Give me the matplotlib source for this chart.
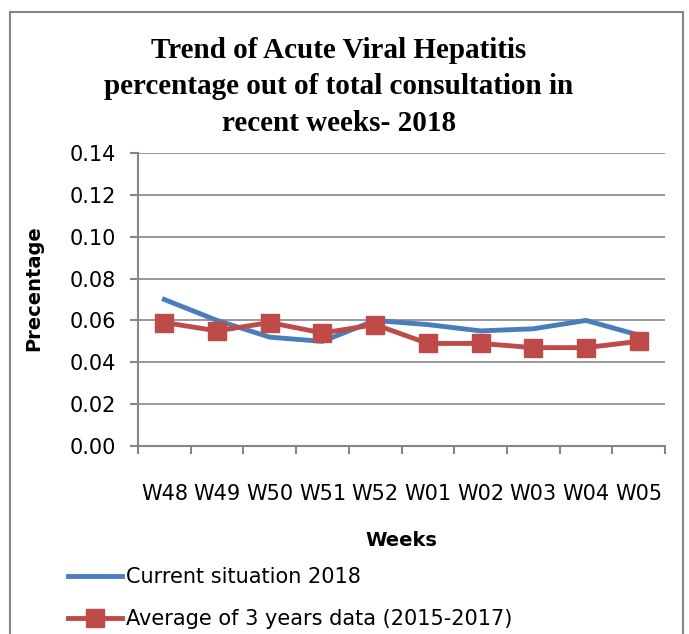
import matplotlib.pyplot as plt
from matplotlib.patches import Rectangle
import numpy as np

weeks = ['W48', 'W49', 'W50', 'W51', 'W52', 'W01', 'W02', 'W03', 'W04', 'W05']
current_2018 = [0.070, 0.060, 0.052, 0.050, 0.060, 0.058, 0.055, 0.056, 0.060, 0.053]
avg_2015_2017 = [0.059, 0.055, 0.059, 0.054, 0.058, 0.049, 0.049, 0.047, 0.047, 0.050]
y_ticks = [0.00, 0.02, 0.04, 0.06, 0.08, 0.10, 0.12, 0.14]

fig = plt.figure(figsize=(6.89, 6.34), dpi=100)
ax = fig.add_axes([138 / 689, 1 - 446 / 634, 527 / 689, 293 / 634])

x = np.arange(len(weeks))
ax.plot(x, current_2018, color='#4a7ebb', lw=3.5, label='Current situation 2018')
ax.plot(x, avg_2015_2017, color='#be4b48', lw=3.5, marker='s', markersize=12.5,
        label='Average of 3 years data (2015-2017)')

ax.set_xlim(-0.5, len(weeks) - 0.5)
ax.set_ylim(0, 0.14)
ax.set_yticks(y_ticks)
ax.set_yticklabels([f'{v:.2f}' for v in y_ticks], fontsize=15)
ax.set_xticks(x)
ax.set_xticklabels(weeks, fontsize=15)
ax.set_xticks(np.arange(-0.5, len(weeks)), minor=True)
ax.tick_params(axis='x', which='major', length=0, pad=27)
ax.tick_params(axis='x', which='minor', length=6, color='#868686', width=1.5)
ax.tick_params(axis='y', length=6, color='#868686', width=1.5, pad=10)
ax.grid(axis='y', color='#868686', lw=1.2)
ax.set_axisbelow(True)
for s in ['top', 'right']:
    ax.spines[s].set_visible(False)
for s in ['left', 'bottom']:
    ax.spines[s].set_color('#868686')
    ax.spines[s].set_linewidth(1.5)

ax.set_ylabel('Precentage', fontsize=14, fontweight='bold')
ax.yaxis.set_label_coords(-0.18, 0.54)
ax.set_xlabel('Weeks', fontsize=14, fontweight='bold', labelpad=20)

fig.text(0.492, 1 - 87 / 634,
         'Trend of Acute Viral Hepatitis\npercentage out of total consultation in\nrecent weeks- 2018',
         ha='center', va='center', fontsize=21, fontweight='bold',
         family='Liberation Serif', linespacing=1.45)

fig.legend(loc='upper left', bbox_to_anchor=(68 / 689, 1 - 567 / 634), frameon=False,
           fontsize=15, handlelength=2.6, handletextpad=0.2, labelspacing=1.05,
           borderaxespad=0, borderpad=0)

fig.patches.append(Rectangle((10 / 689, -0.01), 673 / 689, 1 - 12 / 634 + 0.01,
                             transform=fig.transFigure, fill=False,
                             edgecolor='#868686', lw=1.5))

fig.savefig('out.png', dpi=100)
